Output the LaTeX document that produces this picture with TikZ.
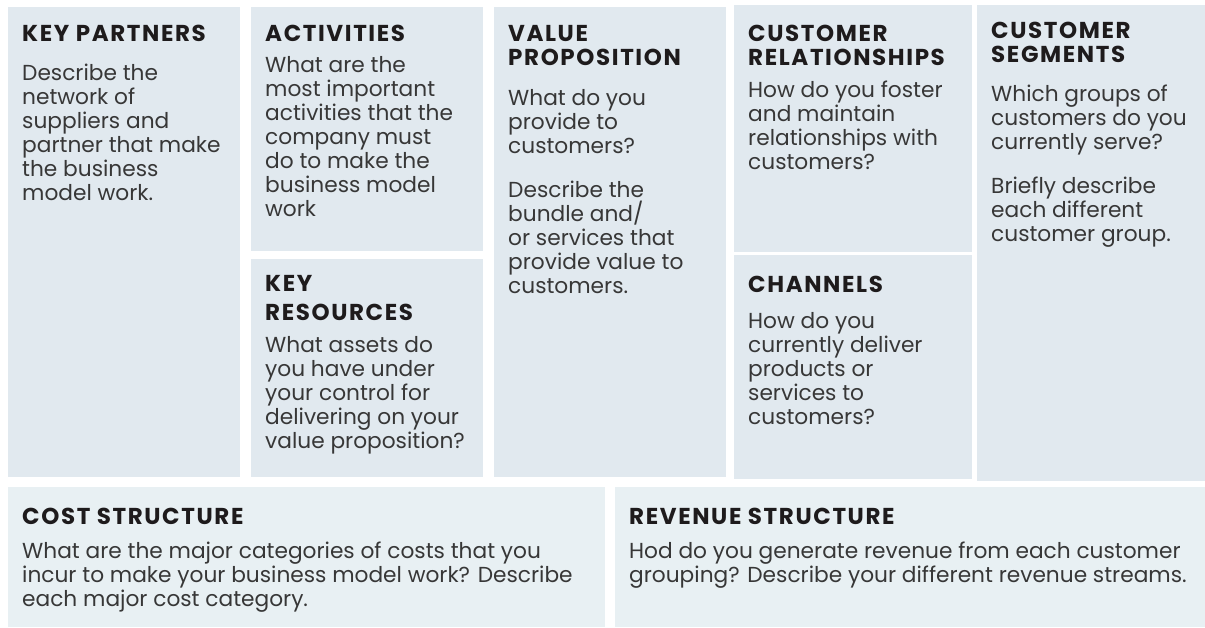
\documentclass[tikz,border=0pt]{standalone}
\usepackage{fontspec}
\setmainfont{Poppins}
\newfontfamily\titlefont[LetterSpace=7]{Poppins}
\newcommand\topstrut{\rule{0pt}{20pt}}
\definecolor{topfill}{RGB}{225,233,239}
\definecolor{botfill}{RGB}{232,240,243}
\definecolor{titlecol}{RGB}{30,27,28}
\definecolor{bodycol}{RGB}{55,55,55}
\tikzset{
  panel/.style={fill=topfill, draw=none, inner sep=0pt, anchor=north west},
  lowpanel/.style={fill=botfill, draw=none, inner sep=0pt, anchor=north west},
  title/.style={anchor=north west, inner sep=0pt, align=left, text=titlecol,
    font=\titlefont\fontsize{23}{24}\selectfont\bfseries},
  body/.style={anchor=north west, inner sep=0pt, align=left, text=bodycol,
    font=\fontsize{21.7}{24}\selectfont},
}
\begin{document}
\begin{tikzpicture}[x=1pt,y=-1pt]
\useasboundingbox (0,0) rectangle (1205,627);
% panels
\node[panel, minimum width=232, minimum height=470] (kp) at (8,7) {};
\node[panel, minimum width=232, minimum height=244] (act) at (251,7) {};
\node[panel, minimum width=232, minimum height=218] (kr) at (251,259) {};
\node[panel, minimum width=232, minimum height=470] (vp) at (494,7) {};
\node[panel, minimum width=238, minimum height=247] (cr) at (734,5) {};
\node[panel, minimum width=238, minimum height=224] (ch) at (734,255) {};
\node[panel, minimum width=228, minimum height=476] (cs) at (977,5) {};
\node[lowpanel, minimum width=597, minimum height=140] (cost) at (8,487) {};
\node[lowpanel, minimum width=590, minimum height=140] (rev) at (615,487) {};
% key partners (y = first baseline - 20)
\node[title] (kpT) at (22,21) {\topstrut KEY PARTNERS};
\node[body] (kpB) at (22,60) {\topstrut Describe the\\network of\\suppliers and\\partner that make\\the business\\model work.};
% activities
\node[title] (actT) at (265,21) {\topstrut ACTIVITIES};
\node[body] (actB) at (265,52) {\topstrut What are the\\most important\\activities that the\\company must\\do to make the\\business model\\work};
% key resources
\node[title] (krT1) at (265,271) {\topstrut KEY};
\node[title] (krT2) at (265,300) {\topstrut RESOURCES};
\node[body] (krB) at (265,332) {\topstrut What assets do\\you have under\\your control for\\delivering on your\\value proposition?};
% value proposition
\node[title] (vpT) at (508,21) {\topstrut VALUE\\PROPOSITION};
\node[body] (vpB1) at (508,85) {\topstrut What do you\\provide to\\customers?};
\node[body] (vpB2) at (508,177) {\topstrut Describe the\\bundle and/\\or services that\\provide value to\\customers.};
% customer relationships
\node[title] (crT) at (748,21) {\topstrut CUSTOMER\\RELATIONSHIPS};
\node[body] (crB) at (748,77) {\topstrut How do you foster\\and maintain\\relationships with\\customers?};
% channels
\node[title] (chT) at (748,272) {\topstrut CHANNELS};
\node[body] (chB) at (748,308) {\topstrut How do you\\currently deliver\\products or\\services to\\customers?};
% customer segments
\node[title] (csT) at (991,18) {\topstrut CUSTOMER\\SEGMENTS};
\node[body] (csB1) at (991,81) {\topstrut Which groups of\\customers do you\\currently serve?};
\node[body] (csB2) at (991,173) {\topstrut Briefly describe\\each different\\customer group.};
% cost structure
\node[title] (costT) at (22,504) {\topstrut COST STRUCTURE};
\node[body] (costB) at (22,538) {\topstrut What are the major categories of costs that you\\incur to make your business model work? Describe\\each major cost category.};
% revenue structure
\node[title] (revT) at (629,504) {\topstrut REVENUE STRUCTURE};
\node[body] (revB) at (629,538) {\topstrut Hod do you generate revenue from each customer\\grouping? Describe your different revenue streams.};
\end{tikzpicture}
\end{document}
